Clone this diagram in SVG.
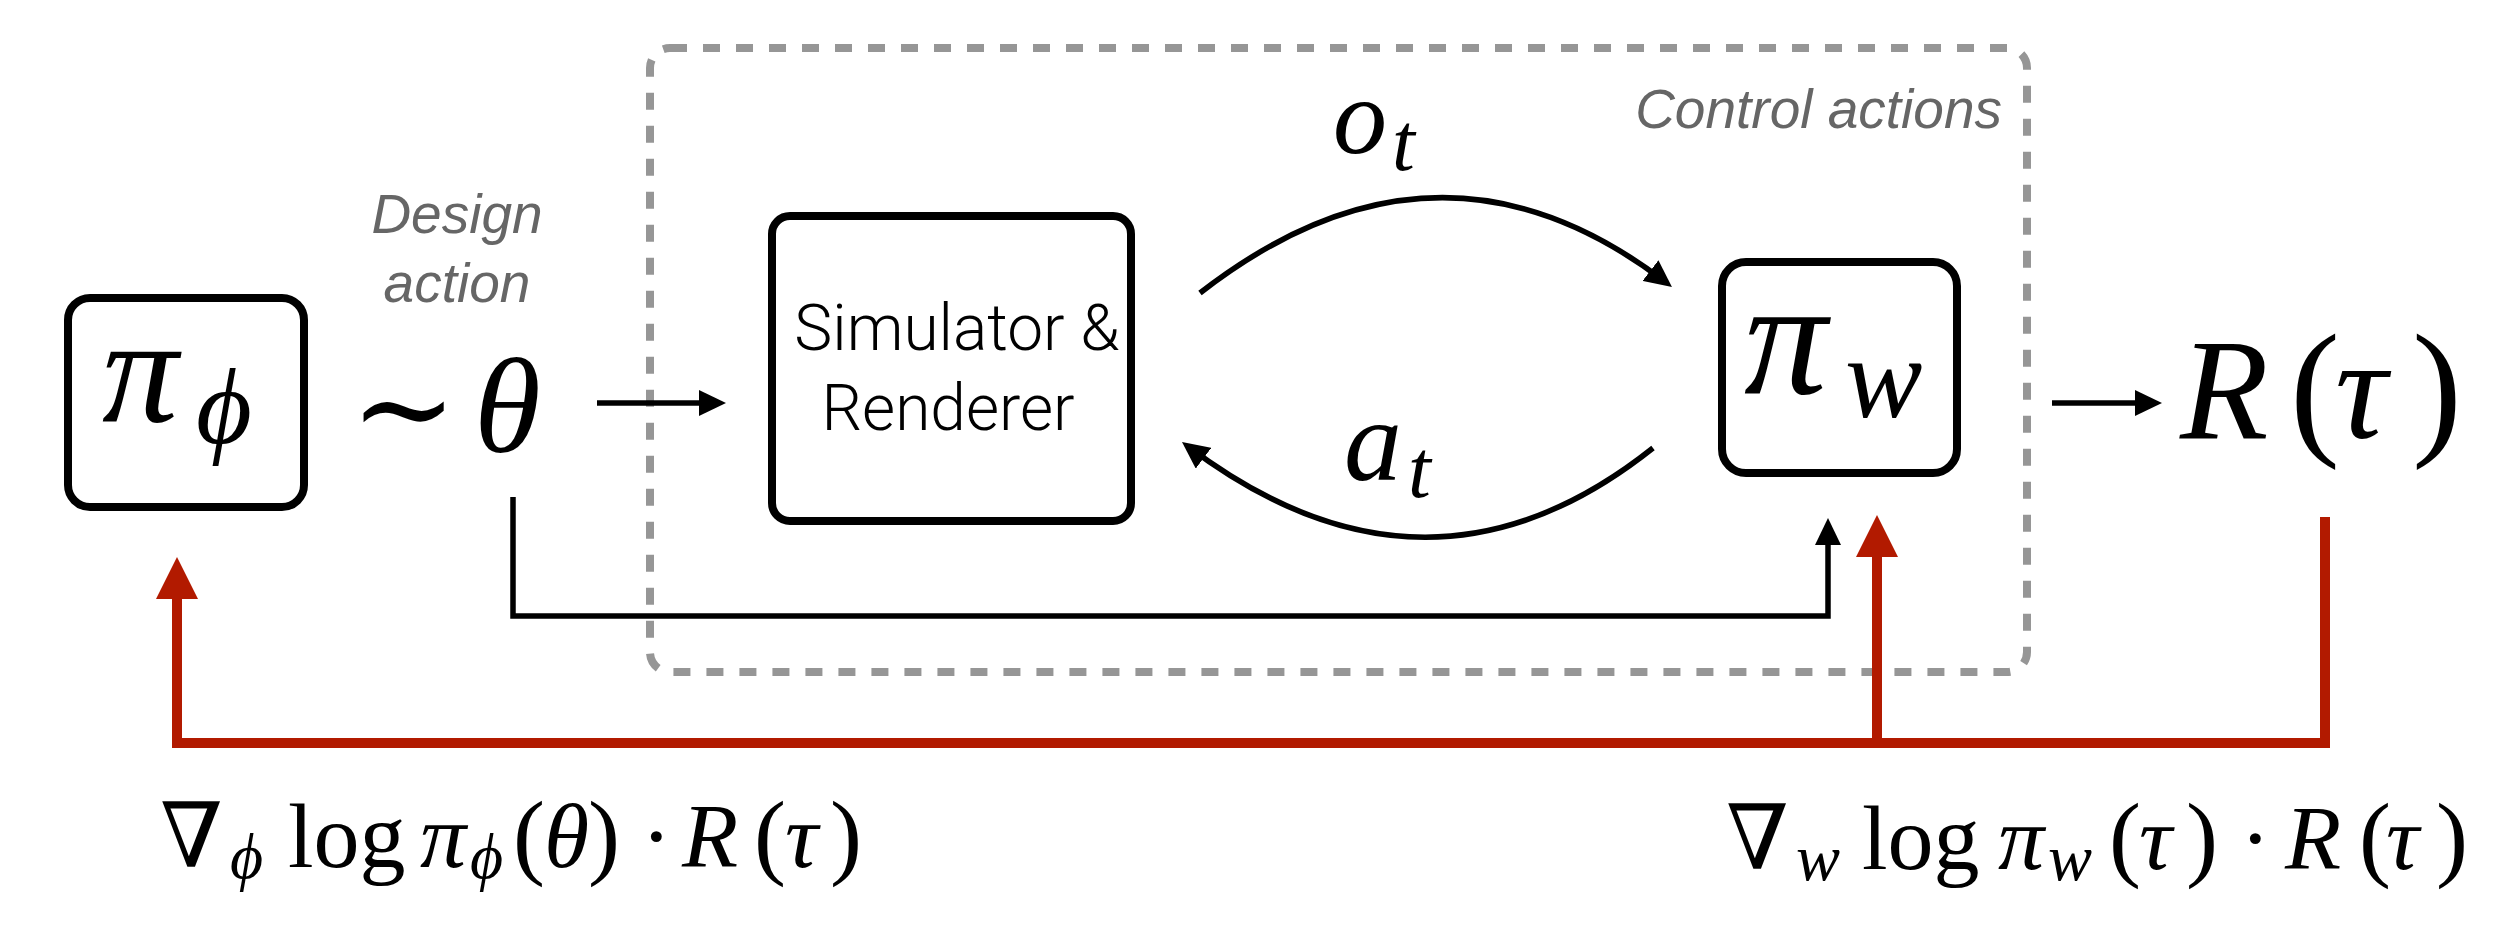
<svg xmlns="http://www.w3.org/2000/svg" width="2500" height="938" viewBox="0 0 2500 938">
<defs>
<style>
.box{fill:none;stroke:#000;stroke-width:8}
.m{font-family:"Liberation Serif","DejaVu Serif",serif;fill:#000}
.mi{font-family:"Liberation Serif","DejaVu Serif",serif;font-style:italic;fill:#000}
.lbl{font-family:"Liberation Sans",Arial,sans-serif;font-style:italic;fill:#666;font-size:55px}
.sim{font-family:Roboto,"Liberation Sans",sans-serif;font-weight:300;font-size:64px;fill:#000;text-anchor:middle}
.blk{fill:none;stroke:#000;stroke-width:5.5}
.red{fill:none;stroke:#b21a00;stroke-width:10;stroke-linejoin:miter}
</style>
<marker id="ah" markerUnits="userSpaceOnUse" viewBox="0 0 27 26" markerWidth="27" markerHeight="26" refX="19" refY="13" orient="auto">
<path d="M0,0 L27,13 L0,26 z" fill="#000"/>
</marker>
<marker id="rh" markerUnits="userSpaceOnUse" viewBox="0 0 42 42" markerWidth="42" markerHeight="42" refX="32" refY="21" orient="auto">
<path d="M0,0 L42,21 L0,42 z" fill="#b21a00"/>
</marker>
</defs>
<rect width="2500" height="938" fill="#fff"/>

<g id="control-region">
<rect x="650" y="48" width="1377" height="624" rx="20" fill="none" stroke="#969696" stroke-width="8" stroke-dasharray="17 16"/>
<text class="lbl" x="2002" y="128" text-anchor="end">Control actions</text>
</g>

<g id="design-label">
<text class="lbl" x="457" y="233" text-anchor="middle">Design</text>
<text class="lbl" x="457" y="302" text-anchor="middle">action</text>
</g>

<g id="connectors">
<path class="blk" d="M597,403 H718" marker-end="url(#ah)"/>
<path class="blk" d="M2052,403 H2154" marker-end="url(#ah)"/>
<path class="blk" d="M1200,293 Q1438,108 1665.6,282.1" marker-end="url(#ah)"/>
<path class="blk" d="M1653,448 Q1428,627 1188.4,446.8" marker-end="url(#ah)"/>
<path class="blk" d="M513,497 V616 H1828 V526" marker-end="url(#ah)"/>
<path class="red" d="M2325,517 V743 H177 V567" marker-end="url(#rh)"/>
<path class="red" d="M1877,743 V525" marker-end="url(#rh)"/>
</g>

<g id="pi-phi">
<rect class="box" x="68" y="298" width="236" height="209" rx="22"/>
<text class="mi" x="102" y="422" font-size="152">π</text>
<text class="mi" x="196" y="443" font-size="108">ϕ</text>
</g>

<g id="theta">
<text class="m" x="350" y="452" font-size="128">∼</text>
<text class="mi" x="474" y="452" font-size="136">θ</text>
</g>

<g id="simulator">
<rect class="box" x="772" y="216" width="359" height="305" rx="18"/>
<text class="sim" x="957" y="350">Simulator &amp;</text>
<text class="sim" x="948" y="430">Renderer</text>
</g>

<g id="pi-w">
<rect class="box" x="1722" y="262" width="235" height="211" rx="24"/>
<text class="mi" x="1744" y="393" font-size="166">π</text>
<text class="mi" x="1845" y="417" font-size="116">w</text>
</g>

<g id="reward">
<text class="mi" x="2180" y="438" font-size="145">R</text>
<text class="m" x="2290" y="438" font-size="150">(</text>
<text class="mi" x="2335" y="438" font-size="145">τ</text>
<text class="m" x="2412" y="438" font-size="150">)</text>
</g>

<g id="obs-label">
<text class="mi" x="1333" y="153" font-size="108">o</text>
<text class="mi" x="1392" y="170" font-size="82">t</text>
</g>

<g id="act-label">
<text class="mi" x="1344" y="480" font-size="116">a</text>
<text class="mi" x="1408" y="497" font-size="82">t</text>
</g>

<g id="grad-phi">
<text class="m" x="160" y="867" font-size="90">∇</text>
<text class="mi" x="230" y="878" font-size="64">ϕ</text>
<text class="m" x="288" y="867" font-size="92">log</text>
<text class="mi" x="420" y="867" font-size="92">π</text>
<text class="mi" x="470" y="878" font-size="64">ϕ</text>
<text class="m" x="513" y="867" font-size="96">(</text>
<text class="mi" x="544" y="867" font-size="92">θ</text>
<text class="m" x="588" y="867" font-size="96">)</text>
<text class="m" x="641" y="867" font-size="92">·</text>
<text class="mi" x="682" y="867" font-size="92">R</text>
<text class="m" x="754" y="867" font-size="96">(</text>
<text class="mi" x="785" y="867" font-size="92">τ</text>
<text class="m" x="830" y="867" font-size="96">)</text>
</g>

<g id="grad-w">
<text class="m" x="1726" y="869" font-size="90">∇</text>
<text class="mi" x="1796" y="880" font-size="66">w</text>
<text class="m" x="1862" y="869" font-size="92">log</text>
<text class="mi" x="1998" y="869" font-size="92">π</text>
<text class="mi" x="2048" y="880" font-size="66">w</text>
<text class="m" x="2109" y="869" font-size="96">(</text>
<text class="mi" x="2139" y="869" font-size="92">τ</text>
<text class="m" x="2186" y="869" font-size="96">)</text>
<text class="m" x="2240" y="869" font-size="92">·</text>
<text class="mi" x="2285" y="869" font-size="92">R</text>
<text class="m" x="2359" y="869" font-size="96">(</text>
<text class="mi" x="2386" y="869" font-size="92">τ</text>
<text class="m" x="2436" y="869" font-size="96">)</text>
</g>
</svg>
